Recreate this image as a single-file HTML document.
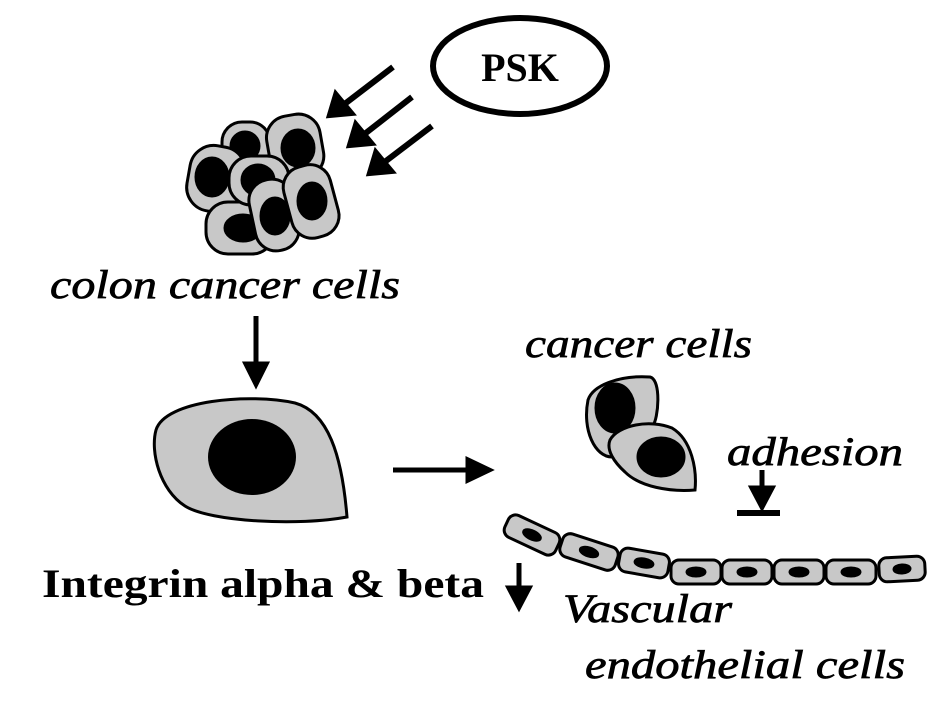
<!DOCTYPE html>
<html><head><style>body{margin:0;background:#fff}svg{display:block}</style></head><body>
<svg width="945" height="728" viewBox="0 0 945 728" xmlns="http://www.w3.org/2000/svg">
<g fill="none" stroke="#000" stroke-width="6">
<ellipse cx="520" cy="66" rx="87" ry="48"/>
</g>
<text x="520" y="81" font-family="Liberation Serif" font-weight="bold" font-size="40" text-anchor="middle">PSK</text>
<g stroke="#000" stroke-width="6" fill="#000">
<line x1="393" y1="67" x2="342" y2="106"/><path d="M330,115 L336,95 L351,113 z"/>
<line x1="412" y1="97" x2="362" y2="136"/><path d="M350,145 L356,125 L371,143 z"/>
<line x1="432" y1="126" x2="382" y2="164"/><path d="M370,173 L376,153 L391,171 z"/>
</g>
<!-- cluster -->
<g stroke="#000" stroke-width="3" fill="#c8c8c8">
<rect x="222" y="122" width="48" height="48" rx="20"/>
<ellipse cx="245" cy="146" rx="14" ry="14" fill="#000"/>
<rect x="268" y="115" width="54" height="64" rx="22" transform="rotate(-10 294 146)"/>
<ellipse cx="298" cy="148" rx="16" ry="18" fill="#000"/>
<rect x="188" y="146" width="56" height="66" rx="24" transform="rotate(10 216 180)"/>
<ellipse cx="212" cy="177" rx="16" ry="19" fill="#000"/>
<rect x="206" y="202" width="68" height="52" rx="22"/>
<ellipse cx="243" cy="228" rx="18" ry="13" fill="#000"/>
<rect x="229" y="156" width="60" height="49" rx="22"/>
<ellipse cx="258" cy="180" rx="16" ry="15" fill="#000"/>
<rect x="252" y="179" width="44" height="72" rx="21" transform="rotate(-12 274 215)"/>
<ellipse cx="275" cy="216" rx="14" ry="18" fill="#000"/>
<rect x="287" y="165" width="48" height="73" rx="21" transform="rotate(-15 311 201)"/>
<ellipse cx="312" cy="201" rx="14" ry="18" fill="#000"/>
</g>
<g font-family="Liberation Serif" font-style="italic" font-size="40" stroke="#000" stroke-width="0.7" lengthAdjust="spacingAndGlyphs">
<text x="50" y="298" textLength="350" lengthAdjust="spacingAndGlyphs">colon cancer cells</text>
<text x="525" y="357" textLength="227" lengthAdjust="spacingAndGlyphs">cancer cells</text>
<text x="727" y="465" textLength="176" lengthAdjust="spacingAndGlyphs">adhesion</text>
<text x="563" y="622" textLength="169" lengthAdjust="spacingAndGlyphs">Vascular</text>
<text x="585" y="678" textLength="320" lengthAdjust="spacingAndGlyphs">endothelial cells</text>
</g>
<g stroke="#000" stroke-width="5" fill="#000">
<line x1="256" y1="316" x2="256" y2="368"/><path d="M246,364 L266,364 L256,384 z"/>
<line x1="393" y1="470" x2="472" y2="470"/><path d="M468,460 L468,480 L489,470 z"/>
<line x1="762" y1="470" x2="762" y2="492"/><path d="M752,488 L772,488 L762,507 z"/>
<line x1="737" y1="513" x2="780" y2="513" stroke-width="6"/>
<line x1="519" y1="563" x2="519" y2="592"/><path d="M509,588 L529,588 L519,607 z"/>
</g>
<!-- big cell -->
<path d="M156,430 C165,400 250,393 295,403 C328,412 342,455 347,517 C300,526 210,522 185,506 C160,490 150,452 156,430 Z" fill="#c8c8c8" stroke="#000" stroke-width="3"/>
<ellipse cx="252" cy="457" rx="44" ry="38" fill="#000"/>
<!-- two cells -->
<g stroke="#000" stroke-width="3" fill="#c8c8c8">
<path d="M588,400 C593,385 620,375 650,377 C662,380 658,420 653,425 C630,430 615,440 612,457 C595,457 582,430 588,400 Z"/>
<ellipse cx="615" cy="408" rx="19" ry="24" fill="#000"/>
<path d="M610,440 C618,425 650,419 672,428 C692,440 697,470 695,490 C670,492 640,487 625,472 C614,462 606,450 610,440 Z"/>
<ellipse cx="661" cy="457" rx="23" ry="19" fill="#000"/>
</g>
<!-- endothelial chain -->
<g stroke="#000" stroke-width="3" fill="#c8c8c8">
<g transform="translate(532,535) rotate(25)"><rect x="-28" y="-12" width="56" height="24" rx="8"/><ellipse rx="9" ry="4" fill="#000"/></g>
<g transform="translate(589,552) rotate(18)"><rect x="-29" y="-12" width="58" height="24" rx="8"/><ellipse rx="9" ry="4" fill="#000"/></g>
<g transform="translate(644,563) rotate(10)"><rect x="-25" y="-12" width="50" height="24" rx="8"/><ellipse rx="9" ry="4" fill="#000"/></g>
<g transform="translate(696,572)"><rect x="-25" y="-12" width="50" height="24" rx="8"/><ellipse rx="9" ry="4" fill="#000"/></g>
<g transform="translate(747,572)"><rect x="-25" y="-12" width="50" height="24" rx="8"/><ellipse rx="9" ry="4" fill="#000"/></g>
<g transform="translate(799,572)"><rect x="-25" y="-12" width="50" height="24" rx="8"/><ellipse rx="9" ry="4" fill="#000"/></g>
<g transform="translate(851,572)"><rect x="-25" y="-12" width="50" height="24" rx="8"/><ellipse rx="9" ry="4" fill="#000"/></g>
<g transform="translate(902,569) rotate(-3)"><rect x="-23" y="-12" width="46" height="24" rx="8"/><ellipse rx="8" ry="4" fill="#000"/></g>
</g>
<text x="42" y="597" font-family="Liberation Serif" font-weight="bold" font-size="40" textLength="442" lengthAdjust="spacingAndGlyphs">Integrin alpha  &amp; beta</text>
</svg>
</body></html>
